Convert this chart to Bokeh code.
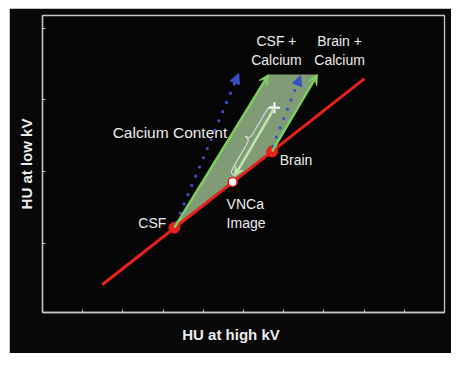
import numpy as np
from bokeh.plotting import figure
from bokeh.models import (Range1d, FixedTicker, Arrow, VeeHead, NormalHead,
                          ColumnDataSource)
from bokeh.embed import file_html
from bokeh.resources import INLINE
from bokeh.core.properties import value

# ---------------- data ----------------
line_x = [1.485, 8.01]          # material line (red)
line_y = [0.418, 3.298]
point_names = ["CSF", "VNCa", "Brain"]
point_x = [3.28, 4.73, 5.71]
point_y = [1.215, 1.855, 2.28]
calc_names = ["CSF + Calcium", "Brain + Calcium"]
calc_x = [5.62, 6.84]
calc_y = [3.354, 3.354]
blue_x0 = [3.33, 5.73]
blue_y0 = [1.29, 2.35]
blue_x1 = [4.88, 6.42]
blue_y1 = [3.37, 3.34]
ca_x = [5.77, 4.78]             # calcium content arrow (from "+" to VNCa)
ca_y = [2.89, 1.94]
x_ticks = [1, 2, 3, 4, 5, 6, 7, 8, 9]
y_ticks = [1, 2, 3, 4]
x_lim = (0, 10)
y_lim = (0.03, 4.18)

FONT = "Liberation Sans"
TXT = "#ececec"
GRAY = "#c8c8c8"

W, H = 442, 345
MB_L, MB_R, MB_T, MB_B = 33, 7, 7, 41

p = figure(width=W, height=H, output_backend="svg", toolbar_location=None,
           x_range=Range1d(*x_lim), y_range=Range1d(*y_lim),
           min_border_left=MB_L, min_border_right=MB_R,
           min_border_top=MB_T, min_border_bottom=MB_B,
           background_fill_color="#050505", border_fill_color="#080808",
           outline_line_color=GRAY, outline_line_width=1.3)
p.margin = (8, 17, 23, 9)
p.grid.visible = False
for ax, ticks in ((p.xaxis[0], x_ticks), (p.yaxis[0], y_ticks)):
    ax.ticker = FixedTicker(ticks=ticks)
    ax.major_label_overrides = {t: "" for t in ticks}
    ax.major_tick_in = 3
    ax.major_tick_out = 0
    ax.minor_tick_line_color = None
    ax.major_tick_line_color = GRAY
    ax.axis_line_color = GRAY
    ax.axis_line_width = 1.3
    ax.major_label_standoff = 0
    ax.axis_label_text_font = FONT
    ax.axis_label_text_font_size = "15px"
    ax.axis_label_text_font_style = "bold"
    ax.axis_label_text_color = TXT

p.yaxis[0].axis_label = "HU at low kV"
p.yaxis[0].axis_label_standoff = 8
# trailing no-break spaces shift the centred label slightly left, as in the original
p.xaxis[0].axis_label = "HU at high kV" + "\u00a0" * 6
p.xaxis[0].axis_label_standoff = 13

# green region (calcium-containing voxels)
poly_x = [point_x[0], calc_x[0], calc_x[1], point_x[2]]
poly_y = [point_y[0], calc_y[0], calc_y[1], point_y[2]]
p.patch(poly_x, poly_y, fill_color="#7f9c76", fill_alpha=1.0, line_color=None)

# blue dotted arrows
blue_src = ColumnDataSource(dict(x0=blue_x0, y0=blue_y0, x1=blue_x1, y1=blue_y1))
p.add_layout(Arrow(source=blue_src, x_start="x0", y_start="y0", x_end="x1", y_end="y1",
                   line_color="#3a50c8", line_width=3.2, line_dash="0 10", line_cap="round",
                   end=NormalHead(size=10, fill_color="#3a50c8", line_color="#3a50c8")))

# green edges with arrow heads
g_src = ColumnDataSource(dict(x0=[point_x[0], point_x[2]], y0=[point_y[0], point_y[2]],
                              x1=calc_x, y1=calc_y))
p.add_layout(Arrow(source=g_src, x_start="x0", y_start="y0", x_end="x1", y_end="y1",
                   line_color="#7ccf5c", line_width=2.5,
                   end=VeeHead(size=10, fill_color="#7ccf5c", line_color="#7ccf5c")))

# calcium content arrow
p.add_layout(Arrow(x_start=ca_x[0], y_start=ca_y[0], x_end=ca_x[1], y_end=ca_y[1],
                   line_color="#bfe8b0", line_width=2.5,
                   end=VeeHead(size=9, fill_color="#bfe8b0", line_color="#bfe8b0")))

# curly brace beside the calcium arrow (built from the arrow end points)
kx = (W - MB_L - MB_R) / (x_lim[1] - x_lim[0])
ky = (H - MB_T - MB_B) / (y_lim[1] - y_lim[0])
A = np.array([ca_x[0] * kx, ca_y[0] * ky])
B = np.array([ca_x[1] * kx, ca_y[1] * ky])
L = np.linalg.norm(B - A)
u = (B - A) / L
n = np.array([u[1], -u[0]])     # side pointing up-left
w = 11.0
h = w / 2
def loc(s, t):
    q = A + u * s + n * t
    return q[0] / kx, q[1] / ky
segs = [((0, 0), (0, h), (0.02 * L, h), (0.12 * L, h)),
        ((0.12 * L, h), (0.2 * L, h), (0.3 * L, h), (0.4 * L, h)),
        ((0.4 * L, h), (0.47 * L, h), (0.5 * L, h), (0.5 * L, w)),
        ((0.5 * L, w), (0.5 * L, h), (0.53 * L, h), (0.6 * L, h)),
        ((0.6 * L, h), (0.7 * L, h), (0.8 * L, h), (0.88 * L, h)),
        ((0.88 * L, h), (0.98 * L, h), (L, h), (L, 0))]
bz = dict(x0=[], y0=[], x1=[], y1=[], cx0=[], cy0=[], cx1=[], cy1=[])
for s0, c0, c1, s1 in segs:
    for key, pt in (("0", s0), ("1", s1)):
        xx, yy = loc(*pt)
        bz["x" + key].append(xx); bz["y" + key].append(yy)
    for key, pt in (("0", c0), ("1", c1)):
        xx, yy = loc(*pt)
        bz["cx" + key].append(xx); bz["cy" + key].append(yy)
p.bezier(x0="x0", y0="y0", x1="x1", y1="y1", cx0="cx0", cy0="cy0", cx1="cx1", cy1="cy1",
         source=ColumnDataSource(bz), line_color="#dcdcdc", line_width=1.1)

# "+" marker
p.scatter([ca_x[0]], [ca_y[0]], marker="cross", size=11, line_color="white", line_width=2)

# red material line and points
p.line(line_x, line_y, line_color="#e8201a", line_width=3)
p.scatter([point_x[0], point_x[2]], [point_y[0], point_y[2]], size=11,
          fill_color="#e8201a", line_color="#e8201a")
p.scatter([point_x[1]], [point_y[1]], size=9, fill_color="white",
          line_color="#e8201a", line_width=1.5)

# labels
def txt(x, y, t, align, size="14px"):
    p.text([x], [y], text=[t], text_align=align, text_baseline="middle",
           text_font=value(FONT), text_font_size=size, text_color=TXT,
           text_line_height=1.2)

txt(5.82, 3.69, calc_names[0].replace(" Calcium", "\nCalcium"), "center")
txt(7.39, 3.69, calc_names[1].replace(" Calcium", "\nCalcium"), "center")
txt(3.17, 2.54, "Calcium Content", "center", size="15.5px")
txt(5.90, 2.16, point_names[2], "left")
txt(4.58, 1.41, "VNCa\nImage", "left")
txt(3.08, 1.28, point_names[0], "right")

open("out.html", "w").write(file_html(p, INLINE))
